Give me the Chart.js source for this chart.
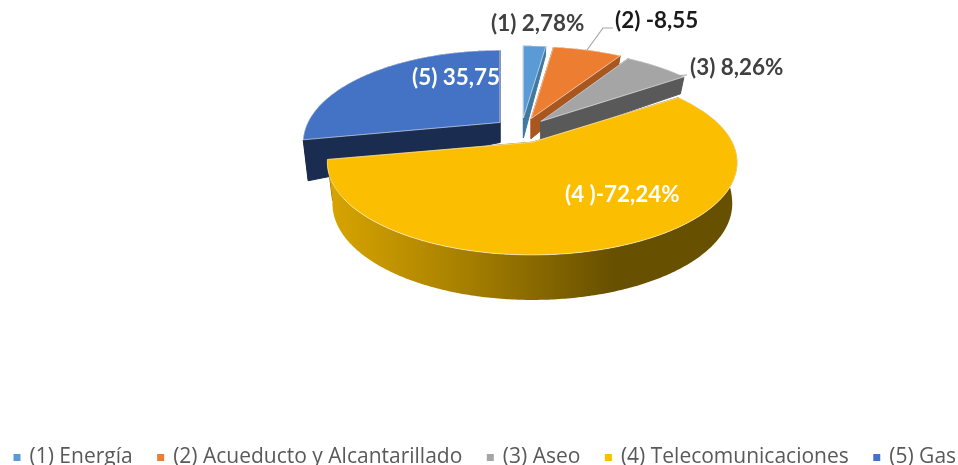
<!DOCTYPE html>
<html><head><meta charset="utf-8">
<style>html,body{margin:0;padding:0;background:#fff;overflow:hidden}canvas{display:block;filter:blur(0.35px)}</style>
<script src="https://cdn.jsdelivr.net/npm/chart.js@4"></script>
</head><body><canvas id="c" width="958" height="465"></canvas>
<script>
const categories = ['(1) Energía','(2) Acueducto y Alcantarillado','(3) Aseo','(4) Telecomunicaciones','(5) Gas'];
const values = [2.78, 8.55, 8.26, 72.24, 35.75];
const valueLabels = ['(1) 2,78%','(2) -8,55','(3) 8,26%','(4 )-72,24%','(5) 35,75%'];
const sliceColors = ['#5B9BD5','#ED7D31','#A5A5A5','#FCBE00','#4472C4'];
const wallColors = ['#40789f','#a9561f','#595959','#8a6a00','#1a2c4f'];
const labelColors = ['#404040','#1a1a1a','#404040','#ffffff','#ffffff'];

const VIEW = {shiftX:42.5, shiftY:0, sx:200, sy:88, k:0.22, squash:0.45, bottomScale:0.975, apexDepth:20};
const REACH = [1,1,0.98,1,0.96];
const DEPTH = [[-1,10],[-0.57,17],[0,37],[0.19,41],[1,45]];
const DRAW_ORDER = [4,0,1,2,3];
const LABEL_AT = [[491,24],[615,21],[690,68],[565,195],[412,78]];
const LEADERS = {1:[[587,50],[603,28],[613,28]],2:[[670,76],[687,75]]};

function rimDepth(s){
  for(let i=1;i<DEPTH.length;i++){
    if(s<=DEPTH[i][0]){const [a,b]=DEPTH[i-1],[c,d]=DEPTH[i];return b+(d-b)*(s-a)/(c-a);}
  }
  return DEPTH[DEPTH.length-1][1];
}
function geom(el,cy0,reach){
  const p=el.getProps(['x','y','startAngle','endAngle'],true);
  const mid=(p.startAngle+p.endAngle)/2, off=el.options.offset||0;
  const ax=p.x+VIEW.shiftX+Math.cos(mid)*off, ay=cy0+Math.sin(mid)*off*VIEW.squash;
  const top=(a,r)=>{const X=r*Math.cos(a),Y=r*Math.sin(a),w=1/(1-VIEW.k*Y);
    return [ax+VIEW.sx*reach*X*w, ay+VIEW.sy*Y*w];};
  const bot=(a,r)=>{const t=top(a,r);
    const d=VIEW.apexDepth+r*(rimDepth(Math.sin(a))-VIEW.apexDepth);
    return [ax+(t[0]-ax)*VIEW.bottomScale, t[1]+d];};
  return {ax,ay,top,bot,start:p.startAngle,end:p.endAngle};
}
function poly(ctx,pts,fill,stroke){
  ctx.beginPath();pts.forEach((q,i)=>i?ctx.lineTo(q[0],q[1]):ctx.moveTo(q[0],q[1]));ctx.closePath();
  ctx.fillStyle=fill;ctx.fill();
  if(stroke){ctx.strokeStyle=stroke;ctx.lineWidth=1;ctx.stroke();}
}
const pie3d={
  id:'pie3d',
  beforeDatasetDraw(chart,args){
    const ctx=chart.ctx, meta=args.meta;
    const cy0=130.5;
    ctx.save();
    DRAW_ORDER.forEach(i=>{
      const el=meta.data[i], g=geom(el,cy0,REACH[i]), steps=Math.max(8,Math.round((g.end-g.start)*90));
      const as=[];for(let s=0;s<=steps;s++)as.push(g.start+(g.end-g.start)*s/steps);
      const wall=wallColors[i];
      poly(ctx,[g.top(g.start,0),g.top(g.start,1),g.bot(g.start,1),g.bot(g.start,0)],wall,wall);
      poly(ctx,[g.top(g.end,0),g.top(g.end,1),g.bot(g.end,1),g.bot(g.end,0)],wall,wall);
      let rim=wall;
      if(g.end-g.start>Math.PI){
        rim=ctx.createLinearGradient(g.ax-205,0,g.ax+80,0);
        rim.addColorStop(0,'#d8a500');rim.addColorStop(0.5,'#a57e00');rim.addColorStop(1,'#675000');
      }
      poly(ctx,as.map(a=>g.top(a,1)).concat(as.slice().reverse().map(a=>g.bot(a,1))),rim);
      const face=[g.top(g.start,0)].concat(as.map(a=>g.top(a,1)));
      poly(ctx,face,el.options.backgroundColor,'rgba(255,255,255,0.55)');
    });
    ctx.restore();
    return false;
  },
  afterDatasetsDraw(chart){
    const ctx=chart.ctx;
    ctx.save();
    ctx.strokeStyle='#a6a6a6';ctx.lineWidth=1.2;
    Object.values(LEADERS).forEach(l=>{ctx.beginPath();l.forEach((q,i)=>i?ctx.lineTo(q[0],q[1]):ctx.moveTo(q[0],q[1]));ctx.stroke();});
    ctx.font='bold 22.4px Lato';ctx.textBaseline='middle';ctx.textAlign='left';
    valueLabels.forEach((t,i)=>{ctx.fillStyle=labelColors[i];ctx.fillText(t,LABEL_AT[i][0],LABEL_AT[i][1]);});
    ctx.restore();
  },
  afterLayout(chart){
    const l=chart.legend;
    l.maxWidth=1400; l.maxHeight=100;
    l.fit();
    const pad=l.options.labels.padding, startX=15;
    l.right=1300;
    l.left=2*startX-pad-l.right+l.lineWidths[0];
    l.top=421; l.bottom=l.top+l.height;
  }
};
new Chart(document.getElementById('c'),{
  type:'pie',
  plugins:[pie3d],
  data:{labels:categories,datasets:[{data:values,backgroundColor:sliceColors,borderWidth:0,offset:28}]},
  options:{
    responsive:false,animation:false,
    layout:{padding:0},
    plugins:{
      tooltip:{enabled:false},
      legend:{position:'bottom',labels:{
        usePointStyle:true,pointStyle:'rect',boxWidth:4,boxHeight:7,padding:26,
        color:'#595959',font:{family:'Open Sans',size:21}
      }}
    }
  }
});
</script></body></html>
